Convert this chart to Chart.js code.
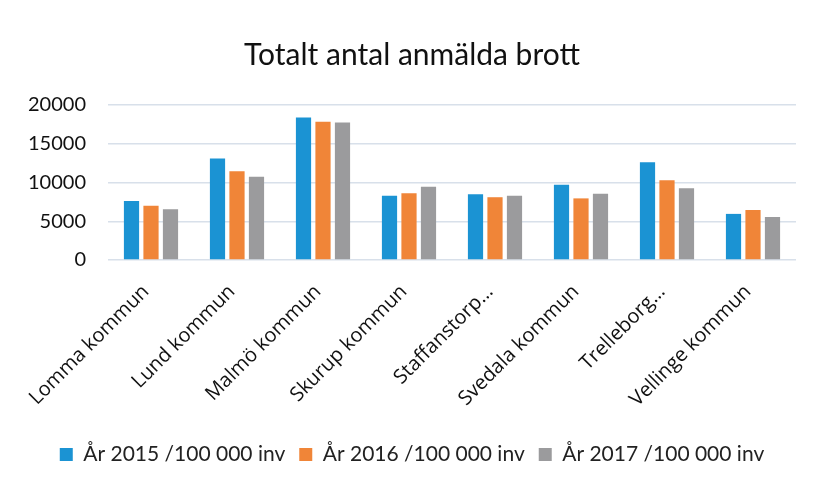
<!DOCTYPE html>
<html>
<head>
<meta charset="utf-8">
<script src="https://cdn.jsdelivr.net/npm/chart.js@4"></script>
<style>
    html, body { margin: 0; padding: 0; background: #fff; }
    #wrap { position: relative; width: 816px; height: 484px; }
</style>
</head>
<body>
<div id="wrap"><canvas id="chart" width="816" height="484"></canvas></div>
<script>
// === Data ===
const kommuner = ["Lomma kommun", "Lund kommun", "Malmö kommun", "Skurup kommun",
    "Staffanstorp…", "Svedala kommun", "Trelleborg…", "Vellinge kommun"];
const ar2015 = [7600, 13100, 18400, 8300, 8500, 9700, 12600, 5950];
const ar2016 = [7000, 11450, 17850, 8600, 8100, 7950, 10300, 6450];
const ar2017 = [6550, 10750, 17750, 9450, 8300, 8550, 9250, 5550];
const yTicks = [0, 5000, 10000, 15000, 20000];

const calibriLike = "Lato, 'Open Sans', sans-serif";

const ctx = document.getElementById("chart").getContext("2d");
new Chart(ctx, {
    type: "bar",
    data: {
        labels: kommuner,
        datasets: [
            { label: "År 2015 /100 000 inv", data: ar2015, backgroundColor: "#1b93d3" },
            { label: "År 2016 /100 000 inv", data: ar2016, backgroundColor: "#f08538" },
            { label: "År 2017 /100 000 inv", data: ar2017, backgroundColor: "#9b9b9d" }
        ]
    },
    options: {
        responsive: false,
        animation: false,
        devicePixelRatio: 1,
        layout: { padding: { left: 28, right: 20, top: 22, bottom: 9 } },
        datasets: {
            bar: { categoryPercentage: 0.68, barPercentage: 0.78 }
        },
        plugins: {
            title: {
                display: true,
                text: "Totalt antal anmälda brott",
                color: "#111",
                font: { family: calibriLike, size: 30, weight: "normal" },
                padding: { top: 15, bottom: 32 }
            },
            legend: {
                position: "bottom",
                labels: {
                    color: "#222",
                    font: { family: calibriLike, size: 21 },
                    boxWidth: 13,
                    boxHeight: 13,
                    padding: 14
                }
            },
            tooltip: { enabled: false }
        },
        scales: {
            x: {
                grid: { display: false },
                border: { display: false },
                afterFit: s => { s.paddingLeft = 0; s.paddingRight = 0; s.height = 170; },
                ticks: {
                    autoSkip: false,
                    maxRotation: 45,
                    minRotation: 45,
                    color: "#111",
                    padding: 12,
                    labelOffset: -5,
                    font: { family: "'Open Sans', sans-serif", size: 20 }
                }
            },
            y: {
                min: 0,
                max: 20000,
                afterBuildTicks: axis => { axis.ticks = yTicks.map(v => ({ value: v })); },
                afterFit: s => { s.width = 80; },
                grid: { color: "#d8e0ea", lineWidth: 1.5, drawTicks: false },
                border: { display: false },
                ticks: {
                    color: "#111",
                    padding: 22,
                    font: { family: calibriLike, size: 20 },
                    callback: v => String(v)
                }
            }
        }
    }
});
</script>
</body>
</html>
